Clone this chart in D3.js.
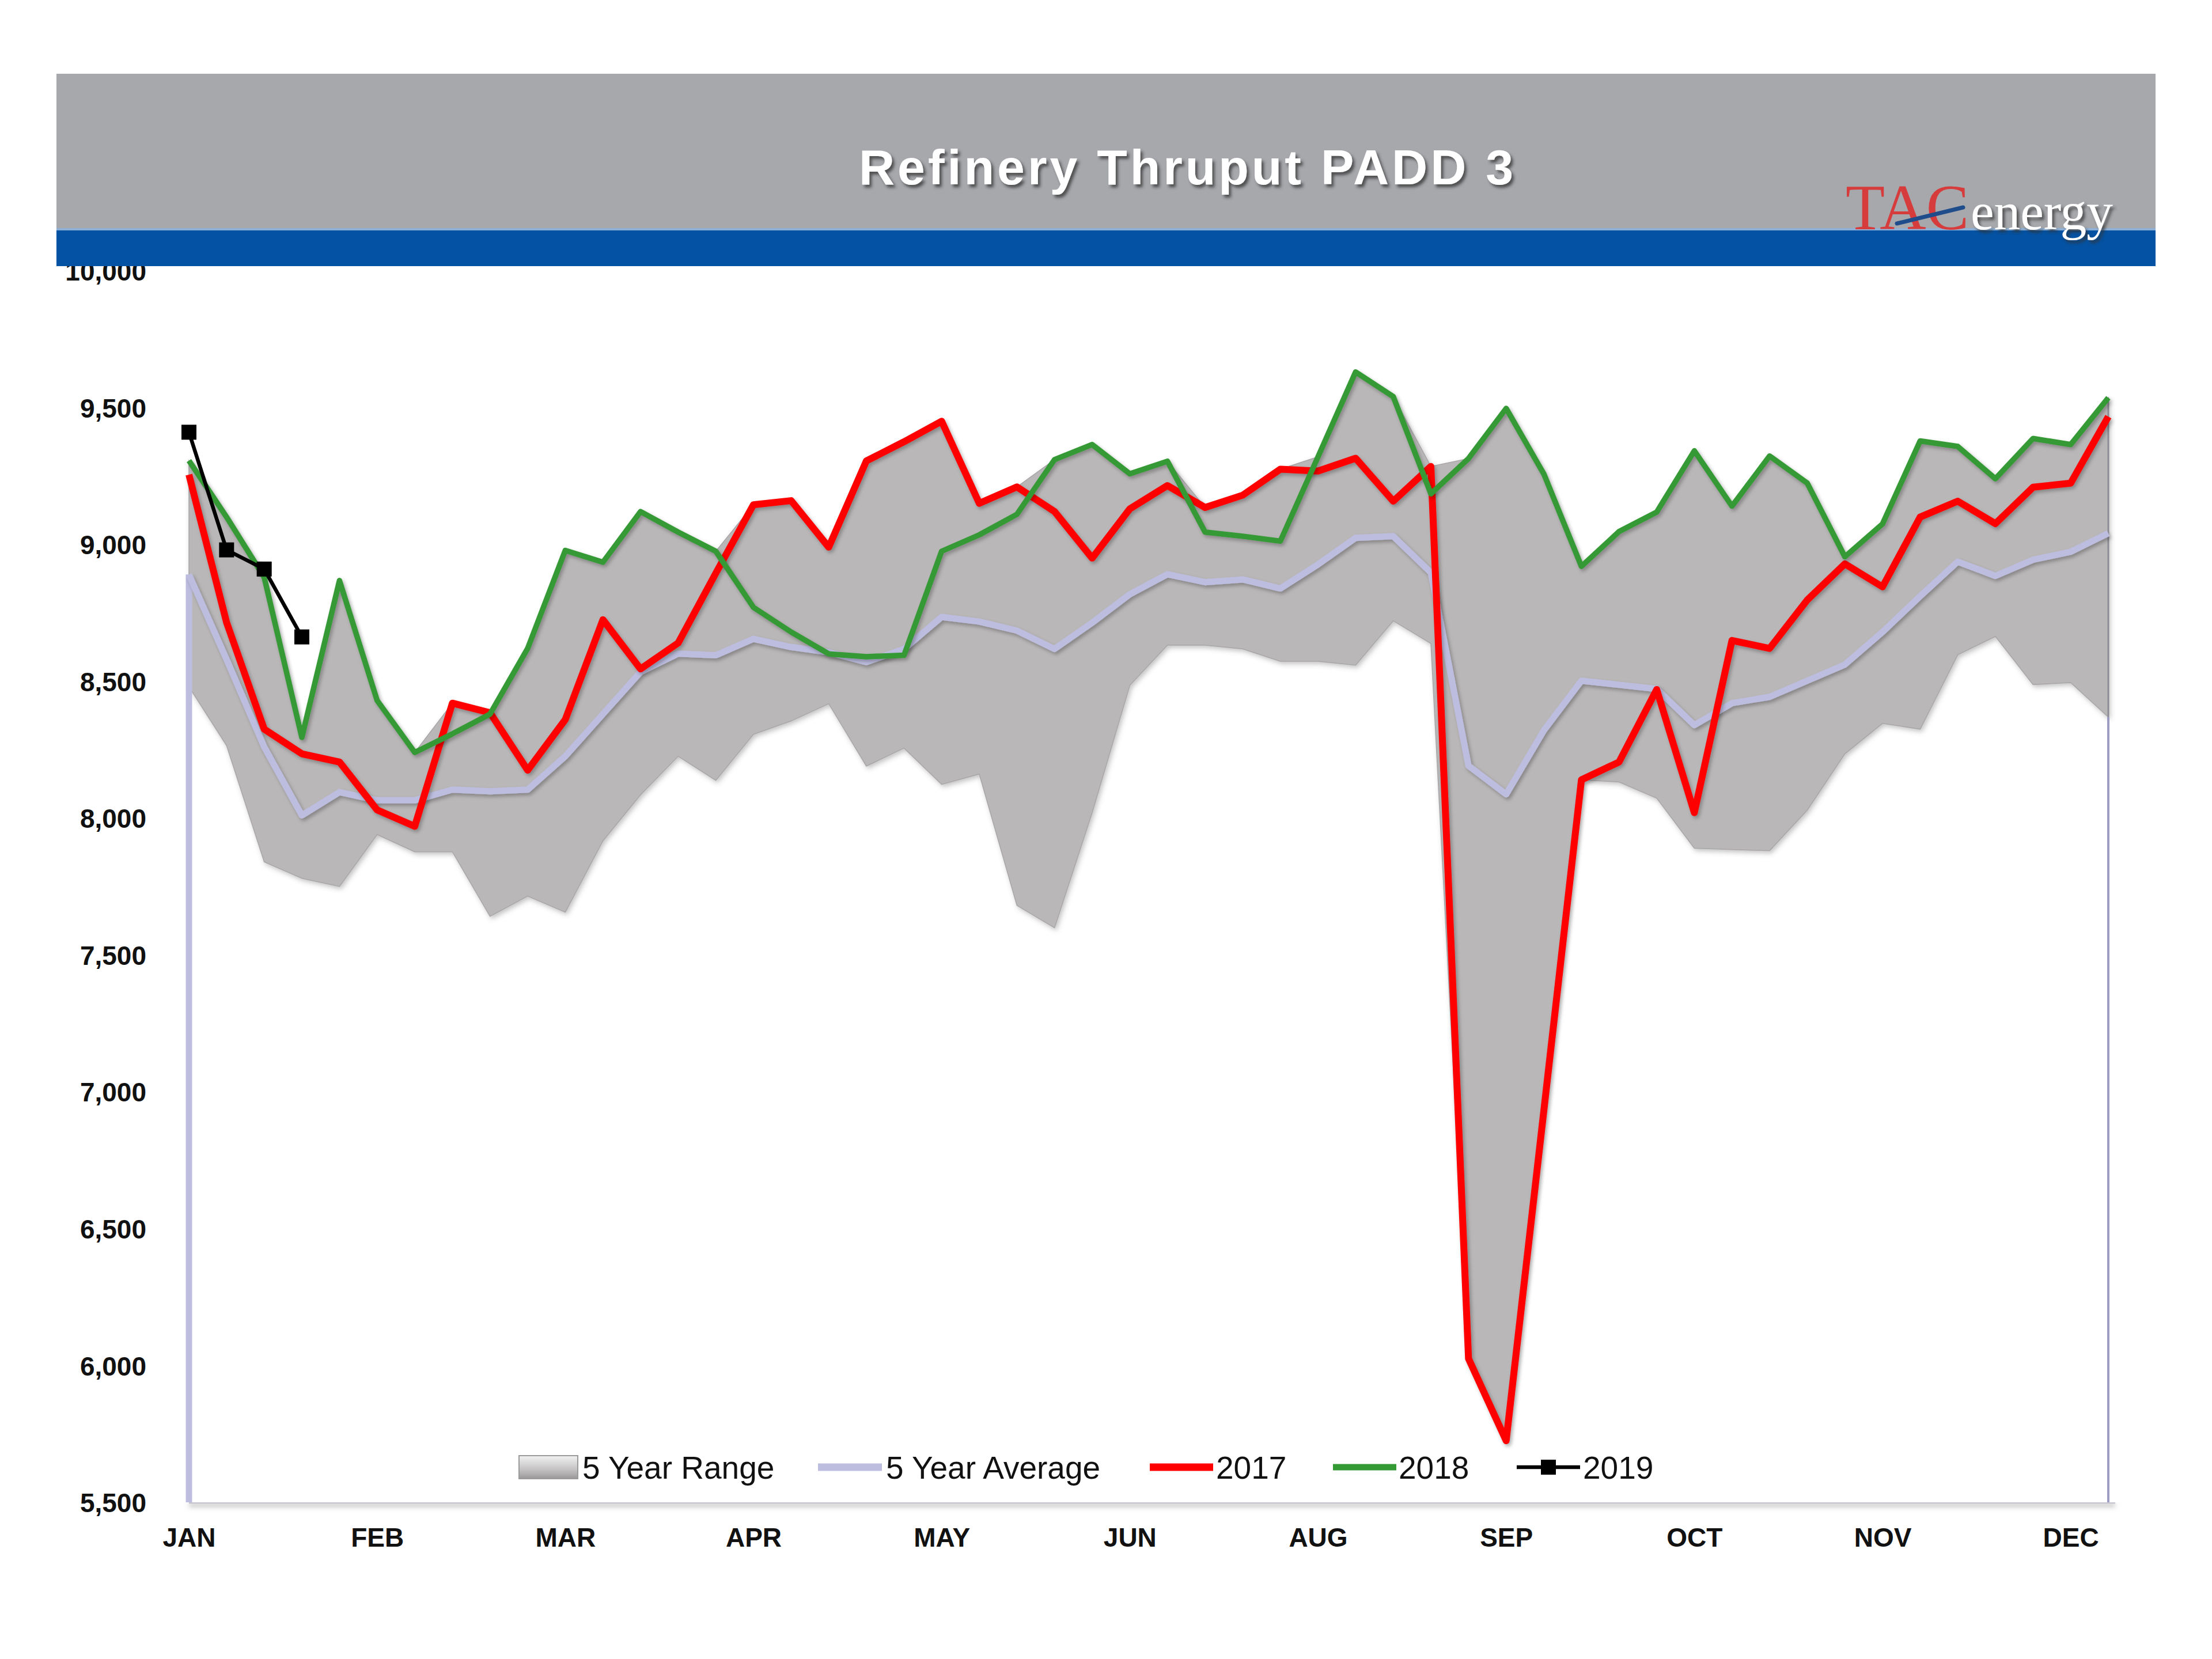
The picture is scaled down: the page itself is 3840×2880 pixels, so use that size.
<!DOCTYPE html>
<html><head><meta charset="utf-8">
<script src="https://cdn.jsdelivr.net/npm/d3@7"></script>
<style>html,body{margin:0;padding:0;background:#fff;} svg{display:block;}</style>
</head><body>
<svg id="chart" width="3840" height="2880"></svg>
<script>
// ---------------- DATA ----------------
const weeks = [1,2,3,4,5,6,7,8,9,10,11,12,13,14,15,16,17,18,19,20,21,22,23,24,25,26,
               27,28,29,30,31,32,33,34,35,36,37,38,39,40,41,42,43,44,45,46,47,48,49,50,51,52];
const tickWeeks  = [1,6,11,16,21,26,31,36,41,46,51];
const tickLabels = ["JAN","FEB","MAR","APR","MAY","JUN","AUG","SEP","OCT","NOV","DEC"];
const yTicks = [5500,6000,6500,7000,7500,8000,8500,9000,9500,10000];

const rangeMin = [8480,8265,7840,7780,7750,7940,7877,7877,7641,7715,7656,7917,8085,8226,8138,8306,
                  8355,8418,8190,8256,8123,8161,7681,7599,8020,8485,8632,8632,8618,8573,8573,8559,
                  8721,8638,6025,5725,6930,8140,8132,8073,7890,7885,7881,8029,8235,8346,8325,8597,
                  8664,8488,8495,8369];
const rangeMax = [9306,9100,8880,8295,8868,8430,8240,8420,8385,8620,8978,8935,9120,9045,8975,9145,
                  9160,8990,9305,9375,9450,9150,9210,9310,9365,9258,9304,9135,9180,9275,9320,9630,
                  9540,9285,9314,9497,9258,8920,9047,9118,9342,9140,9323,9224,8955,9075,9378,9358,
                  9240,9387,9365,9536];
const avg5 = [8890,8580,8260,8010,8095,8065,8065,8104,8098,8104,8226,8380,8534,8601,8595,8655,
              8625,8606,8570,8618,8735,8718,8685,8618,8714,8818,8891,8862,8872,8839,8927,9024,
              9030,8897,8191,8087,8320,8502,8487,8472,8340,8420,8443,8502,8561,8680,8811,8937,
              8885,8944,8973,9041];
const y2017 = [9255,8715,8325,8235,8205,8030,7970,8420,8385,8175,8360,8725,8545,8640,8895,9145,
               9160,8990,9305,9375,9450,9150,9210,9120,8950,9130,9215,9135,9180,9275,9268,9315,
               9158,9285,6025,5725,6930,8140,8205,8470,8020,8649,8620,8797,8929,8845,9100,9158,
               9076,9209,9224,9467];
const y2018 = [9306,9100,8880,8295,8868,8430,8240,8308,8380,8620,8978,8935,9120,9045,8975,8770,
               8680,8600,8590,8595,8975,9035,9110,9310,9365,9258,9304,9045,9030,9012,9320,9630,
               9540,9185,9314,9497,9258,8920,9047,9118,9342,9140,9323,9224,8955,9075,9378,9358,
               9240,9387,9365,9536];
const y2019 = [9410,8980,8910,8662];

const legendNames = ["5 Year Range","5 Year Average","2017","2018","2019"];
const titleText = "Refinery Thruput PADD 3";

// ---------------- SETUP ----------------
const W = 3840, H = 2880;
const svg = d3.select("#chart");
svg.append("rect").attr("width", W).attr("height", H).attr("fill", "#ffffff");
const defs = svg.append("defs");
function shadow(id, dx, dy, sd, op, color) {
  const f = defs.append("filter").attr("id", id)
    .attr("filterUnits", "userSpaceOnUse").attr("x", 0).attr("y", 0).attr("width", W).attr("height", H);
  f.append("feDropShadow").attr("dx", dx).attr("dy", dy).attr("stdDeviation", sd)
    .attr("flood-color", color).attr("flood-opacity", op);
}
shadow("lineShadow", 3, 4, 3, 0.28, "#000");
shadow("areaShadow", 3, 4, 4, 0.35, "#555");
shadow("titleShadow", 4, 5, 2.5, 0.75, "#333");
shadow("axisShadow", 0, 5, 4, 0.5, "#666");
const grad = defs.append("linearGradient").attr("id", "legendBox").attr("x1", 0).attr("y1", 0).attr("x2", 0).attr("y2", 1);
grad.append("stop").attr("offset", "0%").attr("stop-color", "#f2f2f2");
grad.append("stop").attr("offset", "60%").attr("stop-color", "#c4c2c2");
grad.append("stop").attr("offset", "100%").attr("stop-color", "#9a9898");

const x = d3.scalePoint().domain(weeks).range([328, 3660]);
const y = d3.scaleLinear().domain([5500, 10000]).range([2608, 470]);
const idx = weeks.map((w, i) => i);

const plot = svg.append("g");

// 5 year range
plot.append("path")
  .attr("d", d3.area().x(i => x(weeks[i])).y0(i => y(rangeMin[i])).y1(i => y(rangeMax[i]))(idx))
  .attr("fill", "#bab7b8").attr("stroke", "#a9a6aa").attr("stroke-width", 1.5)
  .attr("filter", "url(#areaShadow)");

// x axis baseline
const xAxis = d3.axisBottom(x).tickValues(tickWeeks)
  .tickFormat(w => tickLabels[tickWeeks.indexOf(w)]).tickSize(0).tickSizeOuter(0);
const gx = svg.append("g").attr("transform", `translate(0,${y(5500)})`).call(xAxis);
gx.select(".domain").attr("stroke", "#c6c6ce").attr("stroke-width", 5)
  .attr("d", `M${x(weeks[0])},0H3672`).attr("filter", "url(#axisShadow)");
gx.selectAll("text").attr("y", 77).attr("dy", 0)
  .attr("font-family", "'Liberation Sans', Arial, sans-serif").attr("font-weight", "bold")
  .attr("font-size", 46).attr("fill", "#111");

// average drops at the edges
const lav = "#bdbde0";
plot.append("line").attr("x1", x(weeks[0])).attr("x2", x(weeks[0]))
  .attr("y1", y(avg5[0])).attr("y2", y(5500)).attr("stroke", lav).attr("stroke-width", 11);
plot.append("line").attr("x1", x(weeks[51])).attr("x2", x(weeks[51]))
  .attr("y1", y(rangeMax[51])).attr("y2", y(rangeMin[51])).attr("stroke", "#8e8c96").attr("stroke-width", 3);
plot.append("line").attr("x1", x(weeks[51])).attr("x2", x(weeks[51]))
  .attr("y1", y(rangeMin[51])).attr("y2", y(5500)).attr("stroke", "#9c9cc4").attr("stroke-width", 4);

const line = arr => d3.line().x(i => x(weeks[i])).y(i => y(arr[i]))(arr.map((v, i) => i));

plot.append("path").attr("d", line(avg5)).attr("fill", "none").attr("stroke", lav)
  .attr("stroke-width", 11).attr("stroke-linejoin", "round").attr("filter", "url(#lineShadow)");
plot.append("path").attr("d", line(y2017)).attr("fill", "none").attr("stroke", "#ff0000")
  .attr("stroke-width", 12).attr("stroke-linejoin", "round").attr("filter", "url(#lineShadow)");
plot.append("path").attr("d", line(y2018)).attr("fill", "none").attr("stroke", "#349a34")
  .attr("stroke-width", 9.5).attr("stroke-linejoin", "round").attr("filter", "url(#lineShadow)");
plot.append("path").attr("d", line(y2019)).attr("fill", "none").attr("stroke", "#000")
  .attr("stroke-width", 6.5).attr("stroke-linejoin", "round");
plot.selectAll("rect.m19").data(y2019).enter().append("rect").attr("class", "m19")
  .attr("x", (d, i) => x(weeks[i]) - 13).attr("y", d => y(d) - 13)
  .attr("width", 26).attr("height", 26).attr("fill", "#000");

// y axis labels
const yAxis = d3.axisLeft(y).tickValues(yTicks).tickFormat(d3.format(",")).tickSize(0).tickPadding(0);
const gy = svg.append("g").attr("transform", "translate(254,0)").call(yAxis);
gy.select(".domain").remove();
gy.selectAll("text").attr("font-family", "'Liberation Sans', Arial, sans-serif")
  .attr("font-weight", "bold").attr("font-size", 46).attr("fill", "#111").attr("dy", "0.36em");

// legend
const lg = svg.append("g").attr("font-family", "'Liberation Sans', Arial, sans-serif")
  .attr("font-size", 55).attr("fill", "#111");
const ly = 2547;
const symX = [901, 1420, 1996, 2314, 2633];
lg.append("rect").attr("x", symX[0]).attr("y", ly - 20).attr("width", 102).attr("height", 40)
  .attr("fill", "url(#legendBox)").attr("stroke", "#9a9a9a").attr("stroke-width", 2);
lg.append("line").attr("x1", symX[1]).attr("x2", symX[1] + 111).attr("y1", ly).attr("y2", ly)
  .attr("stroke", lav).attr("stroke-width", 13);
lg.append("line").attr("x1", symX[2]).attr("x2", symX[2] + 110).attr("y1", ly).attr("y2", ly)
  .attr("stroke", "#ff0000").attr("stroke-width", 13);
lg.append("line").attr("x1", symX[3]).attr("x2", symX[3] + 110).attr("y1", ly).attr("y2", ly)
  .attr("stroke", "#349a34").attr("stroke-width", 11);
lg.append("line").attr("x1", symX[4]).attr("x2", symX[4] + 110).attr("y1", ly).attr("y2", ly)
  .attr("stroke", "#000").attr("stroke-width", 6.5);
lg.append("rect").attr("x", symX[4] + 55 - 13).attr("y", ly - 13).attr("width", 26).attr("height", 26).attr("fill", "#000");
const textX = [1011, 1538, 2111, 2428, 2748];
legendNames.forEach((n, i) => {
  lg.append("text").attr("x", textX[i]).attr("y", ly).attr("dy", "0.36em").text(n);
});

// header
const hdr = svg.append("g");
hdr.append("rect").attr("x", 98).attr("y", 128).attr("width", 3644).attr("height", 270).attr("fill", "#a7a8ac");
hdr.append("rect").attr("x", 98).attr("y", 398).attr("width", 3644).attr("height", 64).attr("fill", "#0452a3");
hdr.append("rect").attr("x", 98).attr("y", 396).attr("width", 3644).attr("height", 4).attr("fill", "#8fb0d6");
hdr.append("text").attr("x", 2059).attr("y", 320).attr("text-anchor", "middle")
  .attr("font-family", "'Liberation Sans', Arial, sans-serif").attr("font-weight", "bold")
  .attr("font-size", 86).attr("fill", "#ffffff").attr("textLength", 1136).attr("lengthAdjust", "spacing")
  .attr("filter", "url(#titleShadow)").text(titleText);
// logo
hdr.append("text").attr("x", 3204).attr("y", 398)
  .attr("font-family", "'Liberation Serif', 'Times New Roman', serif")
  .attr("font-size", 112).attr("fill", "#d63c3c").attr("textLength", 214).attr("lengthAdjust", "spacingAndGlyphs")
  .text("TAC");
hdr.append("line").attr("x1", 3293).attr("y1", 388).attr("x2", 3408).attr("y2", 360)
  .attr("stroke", "#1f4d8c").attr("stroke-width", 7).attr("stroke-linecap", "round");
hdr.append("text").attr("x", 3421).attr("y", 398)
  .attr("font-family", "'Liberation Serif', 'Times New Roman', serif")
  .attr("font-size", 90).attr("fill", "#ffffff").attr("textLength", 247).attr("lengthAdjust", "spacingAndGlyphs")
  .attr("filter", "url(#titleShadow)").text("energy");
</script>
</body></html>
